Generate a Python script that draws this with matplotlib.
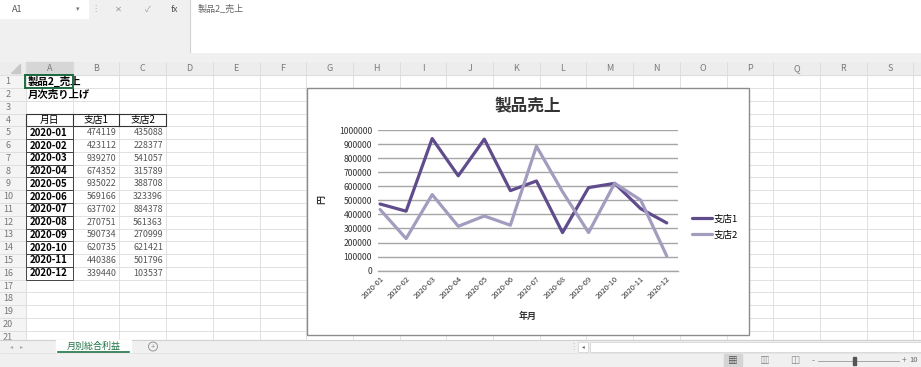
import matplotlib
matplotlib.use('Agg')
import matplotlib.pyplot as plt
from matplotlib.patches import Rectangle, Circle, Polygon

plt.rcParams['font.family'] = ['Noto Sans CJK JP', 'DejaVu Sans']

# data (シート「月別総合利益」)
months = ['2020-01', '2020-02', '2020-03', '2020-04', '2020-05', '2020-06',
          '2020-07', '2020-08', '2020-09', '2020-10', '2020-11', '2020-12']
shop1 = [474119, 423112, 939270, 674352, 935022, 569166,
         637702, 270751, 590734, 620735, 440386, 339440]
shop2 = [435088, 228377, 541057, 315789, 388708, 323396,
         884378, 561363, 270999, 621421, 501796, 103537]
series_names = ['支店1', '支店2']
col_letters = ['A', 'B', 'C', 'D', 'E', 'F', 'G', 'H', 'I', 'J', 'K', 'L',
               'M', 'N', 'O', 'P', 'Q', 'R', 'S']
yticks = [0, 100000, 200000, 300000, 400000, 500000, 600000, 700000,
          800000, 900000, 1000000]

W, H = 921, 367
fig = plt.figure(figsize=(W / 100, H / 100), dpi=100)

# background in pixel coords
bg = fig.add_axes([0, 0, 1, 1])
bg.set_xlim(0, W)
bg.set_ylim(H, 0)
bg.axis('off')

col0, colw = 26, 46.7
row0, rowh = 81.7, 12.77
def row_top(k):
    return row0 + (k - 1) * rowh - rowh / 2

# top ribbon / formula bar
bg.add_patch(Rectangle((0, 0), W, 62, color='#F0F0F0', zorder=0))
bg.add_patch(Rectangle((190, 0), W - 190, 52, color='white', zorder=1))
bg.add_patch(Rectangle((0, 0), 88, 18, color='white', zorder=1))
bg.plot([190, 190], [0, 52], color='#D0D0D0', lw=0.8, zorder=2)
bg.text(12, 9, 'A1', fontsize=6.5, color='#555555', va='center')
bg.text(78, 9, '▾', fontsize=5, color='#777777', va='center', ha='center')
bg.text(95, 9, '⋮', fontsize=6, color='#AAAAAA', va='center', ha='center')
bg.text(118, 9, '✕', fontsize=6, color='#999999', va='center', ha='center')
bg.text(148, 9, '✓', fontsize=6, color='#999999', va='center', ha='center')
bg.text(174, 9, 'fx', fontsize=6.5, color='#555555', va='center', ha='center',
        style='italic')
bg.text(198, 9, '製品2_売上', fontsize=6.5, color='#666666', va='center')

# sheet area
sheet_top = row_top(1)
bg.add_patch(Rectangle((0, 62), W, 278, color='white', zorder=0))
bg.add_patch(Rectangle((0, 62), W, sheet_top - 62, color='#EDEDED', zorder=1))
bg.add_patch(Rectangle((0, sheet_top), col0, 340 - sheet_top, color='#F4F4F4', zorder=1))
bg.add_patch(Rectangle((col0, 62), colw, sheet_top - 62, color='#D6D6D6', zorder=1))
bg.plot([col0, col0 + colw], [sheet_top - 0.5, sheet_top - 0.5], color='#217346', lw=1.2, zorder=3)
bg.add_patch(Polygon([[20, 64], [20, 73], [11, 73]], closed=True, color='#C8C8C8', zorder=2))

for i, c in enumerate(col_letters):
    x = col0 + i * colw
    bg.text(x + colw / 2, 68.7, c, fontsize=6.5, color='#7A7A7A', ha='center', va='center', zorder=3)
    bg.plot([x, x], [62, 340], color='#DCDCDC', lw=0.6, zorder=1.5)
bg.plot([col0 + 19 * colw] * 2, [62, 340], color='#DCDCDC', lw=0.6, zorder=1.5)
for k in range(1, 23):
    y = row_top(k)
    if y > 340:
        break
    bg.plot([0, W], [y, y], color='#DCDCDC', lw=0.6, zorder=1.5)
    if k <= 21:
        bg.text(8, row0 + (k - 1) * rowh, str(k), fontsize=6.5, color='#777777',
                ha='center', va='center', zorder=3)

# cell contents
bg.text(col0 + 2, row0, '製品2_売上', fontsize=7.5, weight='bold', va='center', zorder=4)
bg.text(col0 + 2, row0 + rowh, '月次売り上げ', fontsize=7.5, weight='bold', va='center', zorder=4)
bg.add_patch(Rectangle((col0 - 1, row_top(1)), colw + 1, rowh, fill=False,
                       ec='#1E6B41', lw=1.4, zorder=5))

hdr_y = row0 + 3 * rowh
for j, t in enumerate(['月日'] + series_names):
    bg.text(col0 + j * colw + colw / 2, hdr_y, t, fontsize=7, va='center', ha='center', zorder=4)
bg.add_patch(Rectangle((col0, row_top(4)), 3 * colw, rowh, fill=False, ec='#333333', lw=0.8, zorder=4))
for j in (1, 2):
    bg.plot([col0 + j * colw] * 2, [row_top(4), row_top(5)], color='#333333', lw=0.8, zorder=4)

for i, m in enumerate(months):
    y = row0 + (4 + i) * rowh
    bg.text(col0 + colw / 2 - 1, y, m, fontsize=7, weight='bold', ha='center', va='center', zorder=4)
    bg.text(col0 + 2 * colw - 3, y, str(shop1[i]), fontsize=6.4, color='#555555',
            ha='right', va='center', zorder=4)
    bg.text(col0 + 3 * colw - 3, y, str(shop2[i]), fontsize=6.4, color='#555555',
            ha='right', va='center', zorder=4)
    bg.add_patch(Rectangle((col0, row_top(5 + i)), colw, rowh, fill=False,
                           ec='#444444', lw=0.7, zorder=4))

# sheet tab bar + status bar
bg.add_patch(Rectangle((0, 340), W, H - 340, color='#F0F0F0', zorder=6))
bg.plot([0, W], [340, 340], color='#D0D0D0', lw=0.8, zorder=7)
bg.text(12, 346.5, '◂', fontsize=4.5, color='#AAAAAA', ha='center', va='center', zorder=7)
bg.text(22, 346.5, '▸', fontsize=4.5, color='#AAAAAA', ha='center', va='center', zorder=7)
bg.add_patch(Rectangle((56, 340), 75, 13, color='white', zorder=7))
bg.plot([58, 129], [352, 352], color='#217346', lw=1.2, zorder=8)
bg.text(93.5, 346.5, '月別総合利益', fontsize=6.5, color='#217346', ha='center', va='center', zorder=8)
bg.add_patch(Circle((153, 346.5), 4.5, fill=False, ec='#888888', lw=0.6, zorder=7))
bg.text(153, 346.7, '+', fontsize=5.5, color='#888888', ha='center', va='center', zorder=8)
bg.text(573, 346.5, '⋮', fontsize=6, color='#BBBBBB', ha='center', va='center', zorder=7)
bg.add_patch(Rectangle((578, 341.5), 10, 10, color='white', ec='#D0D0D0', lw=0.5, zorder=7))
bg.text(583, 346.5, '◂', fontsize=4, color='#666666', ha='center', va='center', zorder=8)
bg.add_patch(Rectangle((590, 341.5), W - 590, 10, color='white', ec='#D0D0D0', lw=0.5, zorder=7))
bg.plot([0, W], [353, 353], color='#E2E2E2', lw=0.6, zorder=7)
bg.add_patch(Rectangle((724, 354), 18, 13, color='#D4D4D4', zorder=7))
bg.text(733, 360.5, '▦', fontsize=7, color='#555555', ha='center', va='center', zorder=8)
bg.text(765, 360.5, '▥', fontsize=7, color='#888888', ha='center', va='center', zorder=8)
bg.text(795, 360.5, '◫', fontsize=7, color='#888888', ha='center', va='center', zorder=8)
bg.text(813, 360.5, '-', fontsize=6, color='#888888', ha='center', va='center', zorder=8)
bg.plot([818, 899], [360.5, 360.5], color='#999999', lw=0.6, zorder=8)
bg.add_patch(Rectangle((853, 356.5), 2.5, 8, color='#555555', zorder=8))
bg.text(904, 360.5, '+', fontsize=6, color='#888888', ha='center', va='center', zorder=8)
bg.text(909, 360.5, '10', fontsize=5.5, color='#666666', va='center', zorder=8)

# chart object box
bg.add_patch(Rectangle((307, 88), 442, 247, facecolor='white', edgecolor='#8C8C8C',
                       lw=1.0, zorder=10))
bg.text(528, 106.5, '製品売上', fontsize=12, weight='bold', color='#333333',
        ha='center', va='center', zorder=11)
bg.text(321.7, 200, '円', fontsize=6.5, weight='bold', color='#333333', rotation=90,
        ha='center', va='center', zorder=11)
bg.text(528, 316.7, '年月', fontsize=6.5, weight='bold', color='#333333',
        ha='center', va='center', zorder=11)

# chart plot area
ax = fig.add_axes([377.7 / W, 1 - 270.7 / H, 300.3 / W, 140.7 / H])
ax.set_zorder(20)
ax.patch.set_alpha(0)
x = list(range(len(months)))
ax.plot(x, shop1, color='#604C8D', lw=2.3, solid_joinstyle='round',
        solid_capstyle='round', label=series_names[0], zorder=3)
ax.plot(x, shop2, color='#A49CBF', lw=2.3, solid_joinstyle='round',
        solid_capstyle='round', label=series_names[1], zorder=4)
ax.set_xlim(-0.09, 11.43)
ax.set_ylim(0, 1000000)
ax.set_yticks(yticks)
ax.set_yticklabels([str(v) for v in yticks], fontsize=6.2, color='#333333')
ax.set_xticks(x)
ax.set_xticklabels(months, rotation=45, ha='right', rotation_mode='anchor',
                   fontsize=5.5, color='#333333')
ax.tick_params(length=0, pad=4)
ax.tick_params(axis='x', pad=3)
ax.grid(axis='y', color='#A6A6A6', lw=1.0)
ax.set_axisbelow(True)
for s in ['top', 'right', 'left']:
    ax.spines[s].set_visible(False)
ax.spines['bottom'].set_color('#A6A6A6')
ax.spines['bottom'].set_linewidth(1.0)
ax.legend(loc='center left', bbox_to_anchor=(692 / W, 1 - 227 / H),
          bbox_transform=fig.transFigure, frameon=False, fontsize=6.8,
          handlelength=2.1, handletextpad=0.15, labelspacing=0.7,
          borderpad=0, borderaxespad=0)

fig.savefig('out.png', dpi=100)
